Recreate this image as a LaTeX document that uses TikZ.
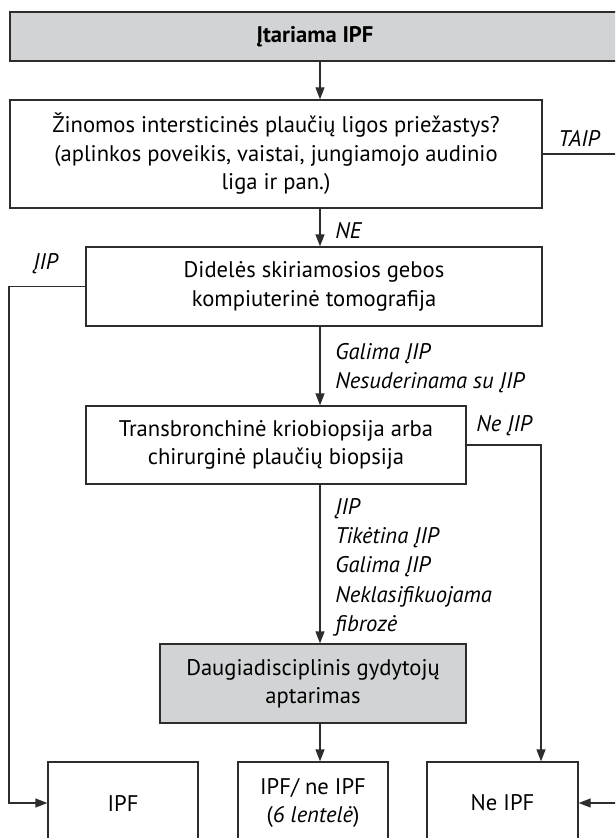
\documentclass[tikz,border=0pt]{standalone}
\usepackage{fontspec}
\setmainfont{PT Sans}
\usepackage{xcolor}
\usetikzlibrary{arrows.meta}

\definecolor{boxgray}{RGB}{209,211,212}
\definecolor{linegray}{RGB}{45,45,45}

\begin{document}
\begin{tikzpicture}[x=0.5pt, y=-0.5pt,
  box/.style={draw=linegray, line width=0.65pt, inner sep=0pt, align=center,
    font=\fontsize{11.3}{14.2}\selectfont},
  graybox/.style={box, fill=boxgray},
  arr/.style={draw=linegray, line width=0.65pt, -{Triangle[length=6pt, width=4.5pt]}},
  lin/.style={draw=linegray, line width=0.65pt},
  lbl/.style={font=\fontsize{11.3}{14.6}\selectfont\itshape, inner sep=0pt, align=left}]
  \clip (0,0) rectangle (615,838);

  % Column of the main arrows
  \coordinate (col) at (320,0);
  \coordinate (rim) at (630,0);

  % Boxes
  \node[graybox, minimum width=305pt, minimum height=24.5pt,
    font=\fontsize{11.3}{14}\selectfont\bfseries] (susp) at (315,36.5) {Įtariama IPF};
  \node[box, minimum width=266pt, minimum height=54pt] (cause) at (276,154)
    {Žinomos intersticinės plaučių ligos priežastys?\\(aplinkos poveikis, vaistai, jungiamojo audinio\\liga ir pan.)};
  \node[box, minimum width=228pt, minimum height=39.5pt] (hrct) at (314,286.5)
    {Didelės skiriamosios gebos\\kompiuterinė tomografija};
  \node[box, minimum width=190pt, minimum height=39pt] (biop) at (276,445)
    {Transbronchinė kriobiopsija arba\\chirurginė plaučių biopsija};
  \node[graybox, minimum width=153pt, minimum height=39.5pt] (mdd) at (313,683.5)
    {Daugiadisciplinis gydytojų\\aptarimas};

  % Bottom row
  \node[box, minimum width=75pt, minimum height=41pt] (ipf) at (123,803) {IPF};
  \node[box, minimum width=75pt, minimum height=41pt] (either) at (313,803)
    {IPF/ ne IPF\\(\textit{6 lentelė})};
  \node[box, minimum width=75.5pt, minimum height=41pt] (notipf) at (502.5,803) {Ne IPF};

  % Main column
  \draw[arr] (susp.south -| col) -- (cause.north -| col);
  \draw[arr] (cause.south -| col) -- (hrct.north -| col);
  \draw[arr] (hrct.south -| col) -- (biop.north -| col);
  \draw[arr] (biop.south -| col) -- (mdd.north -| col);
  \draw[arr] (mdd.south -| col) -- (either.north -| col);

  % Side branches
  \draw[lin] (cause.east) -- (cause.east -| rim);
  \draw[arr] (hrct.west) -| (9,600) |- (ipf.west);
  \draw[arr] (biop.east) -| (notipf.north -| 541,0);
  \draw[arr] (notipf.east -| rim) -- (notipf.east);

  % Labels
  \node[lbl, anchor=west] (yes) at (558,138) {TAIP};
  \node[lbl, anchor=west] (no) at (335,231) {NE};
  \node[lbl, anchor=west] (uip) at (33,264) {ĮIP};
  \node[lbl, anchor=north west] (ctres) at (335,343) {Galima ĮIP\\Nesuderinama su ĮIP};
  \node[lbl, anchor=west] (nouip) at (476,426) {Ne ĮIP};
  \node[lbl, anchor=north west] (bires) at (335,498)
    {ĮIP\\Tikėtina ĮIP\\Galima ĮIP\\Neklasifikuojama\\fibrozė};
\end{tikzpicture}
\end{document}
